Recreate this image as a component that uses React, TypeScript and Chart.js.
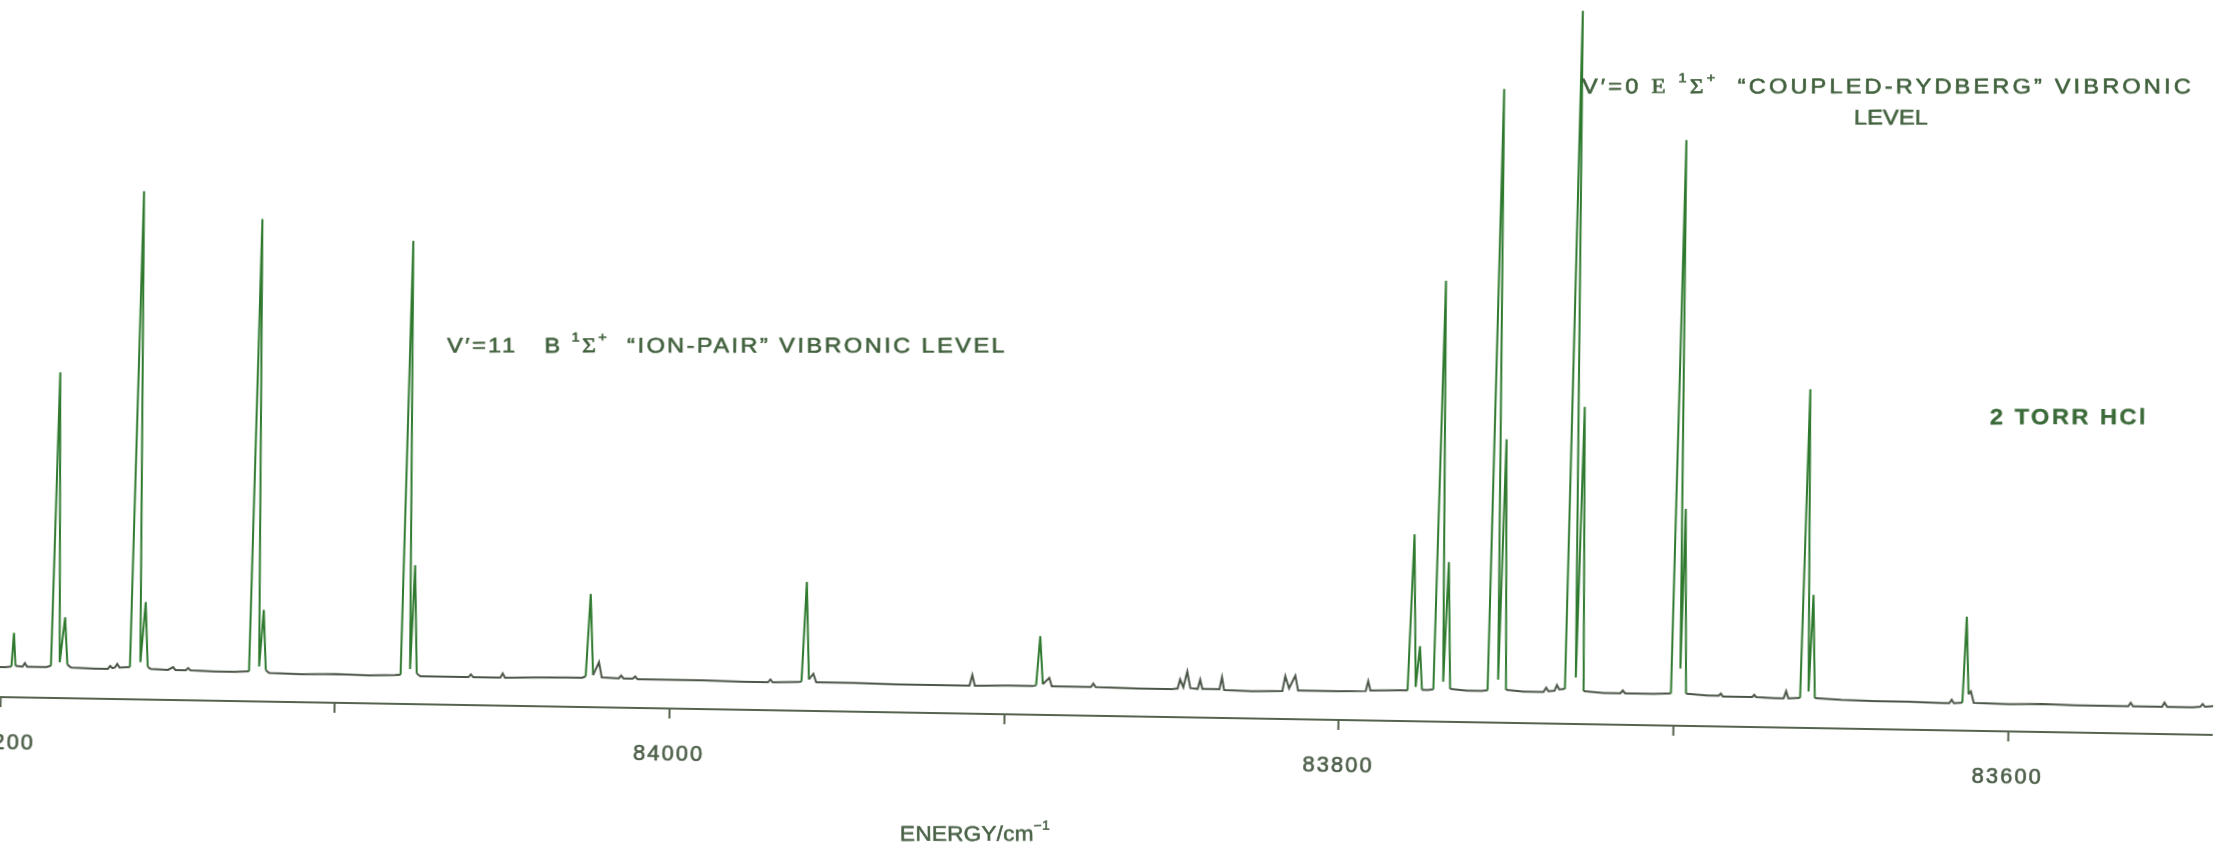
import { useEffect, useRef } from "react";
import { Chart, registerables } from "chart.js";

Chart.register(...registerables);

// Recorded trace: [wavenumber (cm^-1), signal], high energy first.
const trace: [number, number][] = [
  [84201.5, 4.2], [84198.6, 4.2],
  [84196.8, 4.3], [84196.2, 9.0], [84195.6, 4.4],
  [84193.5, 4.3], [84192.8, 4.8], [84192.1, 4.3],
  [84186.4, 4.3],
  [84185.0, 4.5], [84183.7, 45.5], [84182.4, 5.0], [84181.0, 11.3], [84180.1, 4.7], [84179.0, 4.3],
  [84172.0, 4.2], [84168.0, 4.2], [84167.3, 4.6], [84166.6, 4.3], [84165.9, 4.4], [84165.2, 4.9], [84164.5, 4.4],
  [84161.4, 4.5], [84159.6, 71.0], [84158.3, 5.2], [84157.0, 13.6], [84156.1, 4.6], [84155.2, 4.3],
  [84150.0, 4.2], [84148.5, 4.6], [84147.8, 4.2],
  [84144.7, 4.2], [84144.0, 4.5], [84143.3, 4.2],
  [84136.0, 4.1], [84130.0, 4.1],
  [84125.8, 4.2], [84124.1, 67.4], [84122.8, 4.9], [84121.7, 12.8], [84120.8, 4.4], [84119.8, 4.0],
  [84110.0, 3.9], [84100.0, 4.0], [84090.0, 3.9], [84082.2, 4.0],
  [84080.5, 4.1], [84078.9, 64.7], [84077.7, 4.9], [84076.7, 19.4], [84075.7, 4.3], [84074.6, 3.9],
  [84066.0, 3.9], [84060.2, 3.9], [84059.5, 4.3], [84058.8, 3.9],
  [84050.7, 3.9], [84050.0, 4.5], [84049.3, 3.9],
  [84040.0, 4.0], [84031.0, 4.1], [84026.2, 4.1],
  [84025.2, 4.3], [84024.1, 15.8], [84023.0, 4.5], [84021.3, 6.3], [84020.4, 4.2],
  [84015.3, 4.1], [84014.6, 4.5], [84013.9, 4.1], [84011.1, 4.1], [84010.4, 4.4], [84009.7, 4.0],
  [84000.0, 4.0], [83990.0, 4.0], [83978.0, 3.9], [83970.7, 3.9], [83970.0, 4.3], [83969.3, 3.9],
  [83961.8, 4.0],
  [83960.7, 4.1], [83959.6, 18.0], [83958.5, 4.4], [83957.2, 5.2], [83956.3, 4.0],
  [83945.0, 4.0], [83932.0, 3.9], [83920.0, 3.9], [83910.5, 3.9], [83909.7, 5.4], [83908.9, 3.9],
  [83899.0, 4.0], [83891.6, 4.0],
  [83890.6, 4.1], [83889.6, 11.0], [83888.6, 4.3], [83886.7, 5.2], [83885.9, 4.0],
  [83874.2, 4.0], [83873.5, 4.5], [83872.8, 4.0],
  [83860.0, 3.9], [83850.0, 3.9],
  [83848.3, 4.0], [83847.6, 5.3], [83846.6, 4.2], [83845.5, 6.4], [83844.5, 4.1],
  [83842.3, 4.0], [83841.6, 5.3], [83840.9, 4.0],
  [83835.8, 4.0], [83835.1, 5.7], [83834.4, 3.9],
  [83826.0, 3.8], [83817.0, 3.9], [83816.2, 6.0], [83815.0, 4.3], [83813.2, 6.1], [83812.3, 4.0],
  [83800.0, 4.0], [83792.1, 4.1], [83791.4, 5.5], [83790.7, 4.2],
  [83782.0, 4.3], [83779.6, 4.3],
  [83778.3, 26.1], [83777.2, 4.8], [83776.1, 10.5], [83775.3, 4.4], [83773.5, 4.4],
  [83771.9, 4.5], [83770.2, 61.6], [83769.0, 5.6], [83767.9, 22.3], [83766.9, 4.6],
  [83762.0, 4.4], [83757.5, 4.4],
  [83755.7, 4.5], [83753.8, 88.5], [83752.6, 6.0], [83751.3, 39.6], [83750.2, 4.6],
  [83745.0, 4.4], [83739.0, 4.4], [83738.2, 5.0], [83737.5, 4.5], [83735.7, 4.6], [83735.0, 5.4], [83734.3, 4.8], [83732.6, 4.9],
  [83730.7, 99.6], [83729.4, 6.5], [83728.1, 44.3], [83727.0, 4.6],
  [83721.0, 4.4], [83716.0, 4.4], [83715.3, 4.8], [83714.6, 4.4], [83706.0, 4.4], [83700.9, 4.5],
  [83699.1, 81.8], [83698.2, 8.0], [83697.4, 30.3], [83696.4, 4.5],
  [83690.0, 4.3], [83686.6, 4.3], [83686.0, 4.6], [83685.4, 4.2], [83680.0, 4.2], [83676.6, 4.2], [83676.0, 4.5], [83675.4, 4.2],
  [83670.0, 4.1], [83667.2, 4.1], [83666.5, 5.1], [83665.8, 4.1],
  [83662.3, 4.2], [83660.8, 47.3], [83659.8, 5.1], [83658.8, 18.6], [83657.9, 4.2],
  [83650.0, 4.0], [83640.0, 3.9], [83630.0, 3.9], [83620.0, 3.8], [83617.7, 3.8], [83617.0, 4.3], [83616.3, 3.8],
  [83613.8, 3.9], [83612.9, 15.9], [83612.0, 5.1], [83611.3, 5.5], [83610.4, 3.9],
  [83600.0, 3.8], [83590.0, 3.9], [83580.0, 3.8], [83570.0, 3.8], [83564.2, 3.8], [83563.5, 4.3], [83562.8, 3.8],
  [83554.1, 3.8], [83553.4, 4.4], [83552.6, 3.8], [83545.0, 3.8], [83542.7, 3.9], [83542.0, 4.3], [83541.3, 3.9], [83538.8, 4.0],
];

// Energy axis: tick marks every 100 cm^-1, numbers every 200 cm^-1.
const tickValues = [84200, 84100, 84000, 83900, 83800, 83700, 83600];
const labelledTicks = [84200, 84000, 83800, 83600];

type Run = { text: string; sup?: boolean; serif?: boolean };

// Annotation texts written on the recorder chart.
const ionPairText: Run[] = [
  { text: "V′=11   B " }, { text: "1", sup: true }, { text: "Σ", serif: true }, { text: "+", sup: true },
  { text: "  “ION-PAIR” VIBRONIC LEVEL" },
];
const rydbergText: Run[] = [
  { text: "V′=0 " }, { text: "E", serif: true }, { text: " " }, { text: "1", sup: true },
  { text: "Σ", serif: true }, { text: "+", sup: true }, { text: "  “COUPLED-RYDBERG” VIBRONIC" },
];
const rydbergText2: Run[] = [{ text: "LEVEL" }];
const pressureText: Run[] = [{ text: "2 TORR HCl" }];
const axisTitle: Run[] = [{ text: "ENERGY/cm" }, { text: "−1", sup: true }];

// The recorder paper sits slightly skewed, so the whole sheet is turned by this angle.
const PAPER_SKEW_DEG = 0.98;
const skewRad = (PAPER_SKEW_DEG * Math.PI) / 180;

const baseColour = "#4c5648";
const peakColour = "#2f7a2f";
const axisColour = "#56634f";
const textColour = "#41613d";

type Note = {
  runs: Run[];
  at: [number, number];
  size: number;
  weight: string;
  width?: number;
  stretch: number;
  stroke: number;
  align: "left" | "center";
  colour: string;
};

const notes: Note[] = [
  { runs: ionPairText, at: [84068.3, 50.0], size: 21, weight: "normal", width: 560, stretch: 1.12, stroke: 0.6, align: "left", colour: textColour },
  { runs: rydbergText, at: [83730.6, 88.9], size: 21, weight: "normal", width: 612, stretch: 1.12, stroke: 0.6, align: "left", colour: textColour },
  { runs: rydbergText2, at: [83638.1, 85.3], size: 21, weight: "normal", width: 74, stretch: 1.12, stroke: 0.6, align: "center", colour: textColour },
  { runs: pressureText, at: [83607.0, 43.7], size: 22, weight: "bold", width: 158, stretch: 1.08, stroke: 0.3, align: "left", colour: "#3b6a39" },
  { runs: axisTitle, at: [83930.5, -17.1], size: 21, weight: "normal", width: 150, stretch: 1.08, stroke: 0.5, align: "left", colour: "#4a6247" },
];

function drawRuns(ctx: CanvasRenderingContext2D, note: Note, px: number, py: number) {
  const { runs, size, weight, width, stretch, stroke, align, colour } = note;
  ctx.save();
  ctx.translate(px, py);
  // keep lettering level on the turned sheet, in a slightly extended face
  ctx.rotate(-skewRad);
  ctx.scale(stretch, 1);
  (ctx as any).letterSpacing = "0px";
  const fonts = runs.map(
    (r) =>
      `${weight} ${r.sup ? Math.round(size * 0.62) : size}px ${
        r.serif ? '"Liberation Serif", "DejaVu Serif", serif' : '"Liberation Sans", Arial, sans-serif'
      }`
  );
  const widths = runs.map((r, i) => {
    ctx.font = fonts[i];
    return ctx.measureText(r.text).width;
  });
  const counts = runs.map((r) => Array.from(r.text).length);
  const chars = counts.reduce((a, b) => a + b, 0);
  const natural = widths.reduce((a, b) => a + b, 0);
  const spacing = width ? (width / stretch - natural) / chars : 0;
  const total = natural + spacing * chars;
  let cx = align === "center" ? -total / 2 : 0;
  ctx.fillStyle = colour;
  ctx.strokeStyle = colour;
  ctx.lineWidth = stroke;
  ctx.lineJoin = "round";
  ctx.textAlign = "left";
  ctx.textBaseline = "middle";
  (ctx as any).letterSpacing = `${spacing}px`;
  runs.forEach((r, i) => {
    ctx.font = fonts[i];
    const ty = r.sup ? -size * 0.42 : 0;
    ctx.fillText(r.text, cx, ty);
    if (stroke > 0) ctx.strokeText(r.text, cx, ty);
    cx += widths[i] + spacing * counts[i];
  });
  ctx.restore();
}

const letteringPlugin = {
  id: "lettering",
  beforeDraw(chart: Chart) {
    (chart.ctx as any).letterSpacing = "2px";
  },
  afterDraw(chart: Chart) {
    const x = chart.scales.x;
    const y = chart.scales.y;
    for (const note of notes) {
      drawRuns(chart.ctx, note, x.getPixelForValue(note.at[0]), y.getPixelForValue(note.at[1]));
    }
  },
};

export default function App() {
  const canvasRef = useRef<HTMLCanvasElement>(null);

  useEffect(() => {
    const canvas = canvasRef.current;
    if (!canvas) return;
    const chart = new Chart(canvas, {
      type: "line",
      data: {
        datasets: [
          {
            data: trace.map(([x, y]) => ({ x, y })),
            borderColor: baseColour,
            borderWidth: 2,
            pointRadius: 0,
            tension: 0,
            fill: false,
            segment: {
              borderColor: (c: any) => (Math.max(c.p0.parsed.y, c.p1.parsed.y) > 7 ? peakColour : baseColour),
            },
          },
        ],
      },
      options: {
        responsive: false,
        animation: false,
        events: [],
        layout: { padding: 0 },
        plugins: {
          legend: { display: false },
          tooltip: { enabled: false },
          title: { display: false },
        },
        scales: {
          x: {
            type: "linear",
            position: "bottom",
            reverse: true,
            min: 83538.8,
            max: 84201.5,
            afterBuildTicks: (scale: any) => {
              scale.ticks = tickValues.map((value) => ({ value }));
            },
            afterFit: (scale: any) => {
              scale.paddingLeft = 0;
              scale.paddingRight = 0;
              scale.height = 133;
            },
            grid: {
              drawOnChartArea: false,
              drawTicks: true,
              tickLength: 10,
              tickWidth: 2,
              tickColor: axisColour,
            },
            border: { display: true, color: axisColour, width: 2 },
            ticks: {
              autoSkip: false,
              maxRotation: 0,
              minRotation: 0,
              padding: 23,
              color: "#4c5e48",
              textStrokeColor: "#4c5e48",
              textStrokeWidth: 0.6,
              font: { family: '"Liberation Sans", Arial, sans-serif', size: 22 },
              callback: (value: any) => (labelledTicks.includes(Number(value)) ? String(value) : ""),
            },
          },
          y: { type: "linear", display: false, min: 0, max: 100 },
        },
      },
      plugins: [letteringPlugin],
    });
    return () => chart.destroy();
  }, []);

  return (
    <div
      style={{
        position: "fixed",
        left: 0,
        top: 0,
        width: 2218,
        height: 849,
        overflow: "hidden",
        background: "#ffffff",
      }}
    >
      <div
        style={{
          position: "absolute",
          left: 0,
          top: 0,
          width: 2218,
          height: 849,
          transform: `rotate(${PAPER_SKEW_DEG}deg)`,
          transformOrigin: "50% 50%",
        }}
      >
        <canvas ref={canvasRef} width={2218} height={849} style={{ display: "block", width: 2218, height: 849 }} />
      </div>
    </div>
  );
}
